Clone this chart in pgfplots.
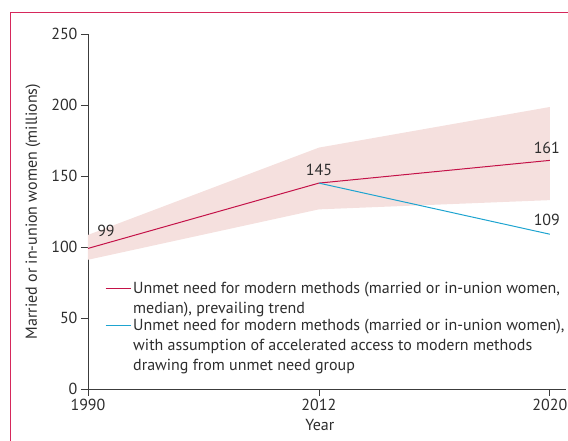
\documentclass[border=0pt]{standalone}
\usepackage{pgfplots}
\pgfplotsset{compat=1.18}
\usepackage{fontspec}
\setmainfont{PT Sans}
\definecolor{cred}{RGB}{196,18,72}
\definecolor{cblue}{RGB}{30,164,208}
\definecolor{cband}{RGB}{245,224,222}
\definecolor{cframe}{RGB}{214,40,92}
\definecolor{textgray}{RGB}{45,45,45}
\definecolor{axisgray}{RGB}{60,60,60}
\begin{document}
\begin{tikzpicture}[x=1pt,y=1pt]
\useasboundingbox (-88,-52) rectangle (480,389);
\draw[cframe, line width=1.3pt] (-77.5,-53) -- (-77.5,376.5) -- (481,376.5);
\begin{axis}[
  at={(0pt,0pt)}, anchor=south west,
  scale only axis, width=478pt, height=355pt,
  xmin=0, xmax=2.07, ymin=0, ymax=250,
  axis x line*=bottom, axis y line*=left,
  xtick={0,1,2}, xticklabels={1990,2012,2020},
  ytick={0,50,100,150,200,250},
  tick align=outside, major tick length=7pt,
  tick style={color=axisgray, line width=0.8pt},
  axis line style={color=axisgray, line width=0.8pt},
  /pgf/number format/assume math mode=true,
  font=\fontsize{16}{20}\selectfont,
  every tick label/.append style={text=textgray, font=\fontsize{16}{18}\selectfont},
  xticklabel style={yshift=0pt},
  xlabel={Year}, ylabel={Married or in-union women (millions)},
  xlabel style={at={(axis description cs:0.485,-0.101)}, anchor=center, text=textgray},
  ylabel style={at={(axis description cs:-0.115,0.5)}, anchor=center, text=textgray},
  clip=false,
  legend cell align=left,
  legend style={at={(axis description cs:0.0356,0.31)}, anchor=north west,
    draw=none, fill=none, inner sep=0pt, row sep=0pt,
    nodes={align=left, inner ysep=2.5pt, text=textgray},
    font=\fontsize{16}{20}\selectfont},
  legend image code/.code={\draw[#1, line width=1pt] (0pt,0pt) -- (25pt,0pt);},
]
\addplot[fill=cband, draw=none, forget plot] coordinates {
  (0,91) (1,126.5) (2,133) (2,198.6) (1,170) (0,108.5)} -- cycle;
\addplot[cred, line width=1pt, legend image post style={yshift=10pt}] coordinates {(0,99) (1,145) (2,161)};
\addlegendentry{Unmet need for modern methods (married or in-union women,\\ median), prevailing trend}
\addplot[cblue, line width=1pt, legend image post style={yshift=20pt}] coordinates {(1,145) (2,109)};
\addlegendentry{Unmet need for modern methods (married or in-union women),\\ with assumption of accelerated access to modern methods\\ drawing from unmet need group}
\node[text=textgray] at (axis cs:0,99) [xshift=18pt, yshift=18pt] {99};
\node[text=textgray] at (axis cs:1,145) [xshift=0pt, yshift=13pt] {145};
\node[text=textgray] at (axis cs:2,161) [xshift=-3pt, yshift=12pt] {161};
\node[text=textgray] at (axis cs:2,109) [xshift=-3pt, yshift=14pt] {109};
\end{axis}
\end{tikzpicture}
\end{document}
